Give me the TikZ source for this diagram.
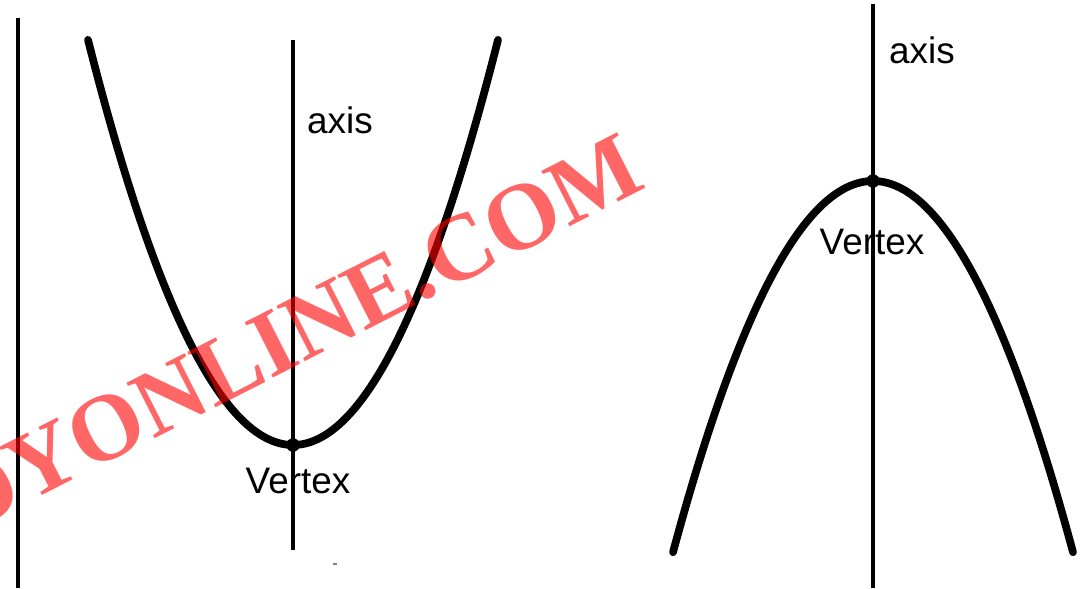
\documentclass[tikz,border=0pt]{standalone}
\usepackage{fontspec}
\setmainfont{Liberation Sans}
\newfontfamily\wmfont{Liberation Serif}
\begin{document}
\begin{tikzpicture}[x=0.02cm,y=-0.02cm,
  thinline/.style={line width=1.9pt,black},
  curve/.style={line width=4.4pt,black,line cap=round,samples=120},
  lbl/.style={font=\fontsize{21}{25}\selectfont,inner sep=0pt},
  vdot/.style={circle,fill=black,inner sep=0pt,minimum size=0.27cm}]
\useasboundingbox (0,0) rectangle (1084,588);
% left figure
\coordinate (Ltop) at (18,18);
\coordinate (Lbot) at (18,588);
\draw[thinline] (Ltop) -- (Lbot);
\coordinate (A1top) at (293,40);
\coordinate (A1bot) at (293,550);
\draw[thinline] (A1top) -- (A1bot);
\draw[curve,domain=88:498] plot (\x,{445-96.4*((\x-293)/100)^2});
\node[vdot] (V1) at (293,445) {};
\node[lbl] (axis1) at (340,120) {axis};
\node[lbl] (vert1) at (298,481) {Vertex};
\coordinate (d1) at (333,564);
\coordinate (d2) at (337,564);
\draw[line width=0.6pt,gray] (d1) -- (d2);
% right figure
\coordinate (A2top) at (873,4);
\coordinate (A2bot) at (873,588);
\draw[thinline] (A2top) -- (A2bot);
\draw[curve,domain=673:1073] plot (\x,{181+92.8*((\x-873)/100)^2});
\node[vdot] (V2) at (873,181) {};
\node[lbl] (axis2) at (922,50) {axis};
\node[lbl] (vert2) at (872,242) {Vertex};
% watermark
\node[text=red,text opacity=0.6,rotate=27,inner sep=0pt,anchor=base,
  font=\wmfont\bfseries\fontsize{54}{60}\selectfont] (wm) at (307,361) {DYONLINE.COM};
\end{tikzpicture}
\end{document}
